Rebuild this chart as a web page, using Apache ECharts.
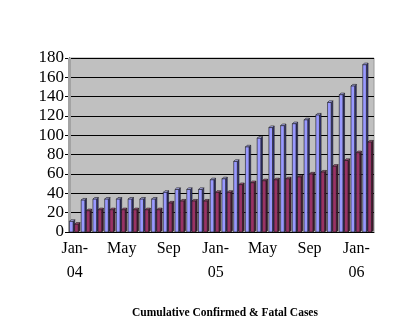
<!DOCTYPE html>
<html>
<head>
<meta charset="utf-8">
<script src="https://cdn.jsdelivr.net/npm/echarts@6/dist/echarts.min.js"></script>
<style>
  html, body { margin: 0; padding: 0; background: #fff; }
  #chart { width: 400px; height: 332px; }
</style>
</head>
<body>
<div id="chart"></div>
<script>
// Monthly cumulative totals, Jan 2004 – Feb 2006
const months = ['Jan-04','Feb-04','Mar-04','Apr-04','May-04','Jun-04','Jul-04','Aug-04',
  'Sep-04','Oct-04','Nov-04','Dec-04','Jan-05','Feb-05','Mar-05','Apr-05','May-05','Jun-05',
  'Jul-05','Aug-05','Sep-05','Oct-05','Nov-05','Dec-05','Jan-06','Feb-06'];
const confirmed = [11, 33, 34, 34, 34, 34, 34, 34, 41, 44, 44, 44, 54, 55,
  73, 88, 97, 108, 110, 112, 116, 121, 134, 142, 151, 173];
const fatal = [8, 22, 23, 23, 23, 23, 23, 23, 30, 32, 32, 32, 41, 41,
  49, 51, 53, 54, 55, 57, 60, 62, 68, 74, 82, 93];
const yTicks = { min: 0, max: 180, step: 20 };

const fontFamily = '"Liberation Serif", "DejaVu Serif", serif';

// axis label: "Jan-\n04" for January, bare month name otherwise
function monthLabel(m) {
  const [mon, yr] = m.split('-');
  return mon === 'Jan' ? mon + '-\n' + yr : mon;
}

// 3D-looking column: front face, right side and top face
function makeRender(slot, front, side, topc) {
  return function (params, api) {
    const idx = api.value(0);
    const v = api.value(1);
    const top = api.coord([idx, v]);
    const base = api.coord([idx, 0]);
    const band = api.size([1, 0])[0];
    const w = band * 0.31;
    const d = band * 0.14;
    const x0 = base[0] - band * 0.46 + slot * band * 0.44;
    const x1 = x0 + w;
    const yT = top[1];
    const yB = base[1];
    const stroke = { stroke: '#1a1a1a', lineWidth: 0.6 };
    return {
      type: 'group',
      children: [
        { type: 'polygon', shape: { points: [[x1, yB], [x1 + d, yB - d], [x1 + d, yT - d], [x1, yT]] },
          style: Object.assign({ fill: side }, stroke) },
        { type: 'polygon', shape: { points: [[x0, yT], [x0 + d, yT - d], [x1 + d, yT - d], [x1, yT]] },
          style: Object.assign({ fill: topc }, stroke) },
        { type: 'rect', shape: { x: x0, y: yT, width: w, height: yB - yT },
          style: Object.assign({ fill: front }, stroke) }
      ]
    };
  };
}

const chart = echarts.init(document.getElementById('chart'));
chart.setOption({
  animation: false,
  backgroundColor: '#ffffff',
  title: {
    text: 'Cumulative Confirmed & Fatal Cases',
    left: 220, textAlign: 'center', top: 302,
    textStyle: { fontFamily, fontSize: 11.5, fontWeight: 'bold', color: '#000' }
  },
  grid: {
    left: 69, right: 26, top: 58, bottom: 100,
    show: true, backgroundColor: '#c0c0c0', borderColor: '#9a9a9a', borderWidth: 1
  },
  graphic: [
    { type: 'rect', left: 68, top: 58, shape: { width: 3, height: 174 },
      style: { fill: '#a3a3a3' }, z: 1 }
  ],
  xAxis: {
    type: 'category',
    data: months,
    boundaryGap: true,
    axisLine: { show: true, lineStyle: { color: '#000', width: 1 } },
    axisTick: { show: false },
    axisLabel: {
      interval: 3,
      formatter: monthLabel,
      fontFamily, fontSize: 16, color: '#000', lineHeight: 24, margin: 5
    },
    splitLine: { show: false }
  },
  yAxis: {
    type: 'value',
    min: yTicks.min, max: yTicks.max, interval: yTicks.step,
    axisLine: { show: true, lineStyle: { color: '#000', width: 1 } },
    axisTick: { show: true, inside: false, length: 4, lineStyle: { color: '#000' } },
    axisLabel: { fontFamily, fontSize: 17, color: '#000', margin: 5 },
    splitLine: { show: true, lineStyle: { color: '#000', width: 1 } }
  },
  series: [
    {
      name: 'Confirmed', type: 'custom',
      renderItem: makeRender(0, '#9999ff', '#33337a', '#b8b8ff'),
      data: confirmed.map((v, i) => [i, v]),
      encode: { x: 0, y: 1 }, z: 3
    },
    {
      name: 'Fatal', type: 'custom',
      renderItem: makeRender(1, '#993366', '#4d1a33', '#b35c85'),
      data: fatal.map((v, i) => [i, v]),
      encode: { x: 0, y: 1 }, z: 3
    }
  ]
});
</script>
</body>
</html>
